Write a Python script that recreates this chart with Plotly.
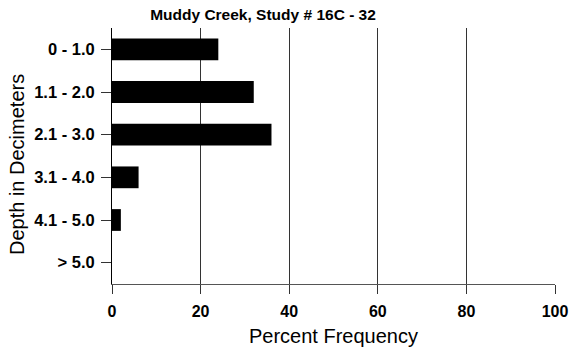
import plotly.graph_objects as go

categories = ["0 - 1.0", "1.1 - 2.0", "2.1 - 3.0", "3.1 - 4.0", "4.1 - 5.0", "> 5.0"]
percent = [24, 32, 36, 6, 2, 0]
x_ticks = [0, 20, 40, 60, 80, 100]

W, H = 569, 349
fig = go.Figure(go.Bar(
    y=categories, x=percent, orientation="h",
    marker=dict(color="black", line=dict(width=0)),
    width=0.51,
))

fig.update_layout(
    width=W, height=H,
    margin=dict(l=112, r=14, t=28, b=65, autoexpand=False),
    paper_bgcolor="white", plot_bgcolor="white",
    font=dict(family="Liberation Sans, Arial, sans-serif", color="black"),
    showlegend=False,
    title=dict(text="<b>Muddy Creek, Study # 16C - 32</b>",
               x=263/W, xanchor="center", xref="container",
               y=1-15/H, yanchor="middle", yref="container",
               font=dict(size=15.5, color="black")),
    xaxis=dict(range=[0, 100], tickvals=x_ticks, ticktext=[f"<b>{v}</b>" for v in x_ticks],
               showgrid=True, gridcolor="#333", gridwidth=1,
               showline=True, linecolor="#555", linewidth=1,
               ticks="outside", ticklen=9, tickcolor="#333",
               tickfont=dict(size=16), ticklabelstandoff=4,
               zeroline=False, automargin=False),
    yaxis=dict(categoryorder="array", categoryarray=categories,
               range=[5.5, -0.5],
               tickvals=categories, ticktext=[f"<b>{c}</b>" for c in categories],
               showgrid=False, showline=True, linecolor="black", linewidth=1,
               ticks="outside", ticklen=10, tickcolor="#333",
               tickfont=dict(size=16.5), ticklabelstandoff=3,
               zeroline=False, automargin=False),
    annotations=[
        dict(text="Percent Frequency", xref="paper", yref="paper",
             x=0.5, xanchor="center", y=-(336-284)/256, yanchor="middle",
             showarrow=False, font=dict(size=20)),
        dict(text="Depth in Decimeters", xref="paper", yref="paper",
             x=-(112-17)/443, xanchor="center", y=0.5 - (165-156)/256, yanchor="middle",
             textangle=-90, showarrow=False, font=dict(size=20)),
    ],
)

fig.write_html("out.html", config={"displayModeBar": False},
               post_script="document.body.style.margin='0';document.body.style.overflow='hidden';")
